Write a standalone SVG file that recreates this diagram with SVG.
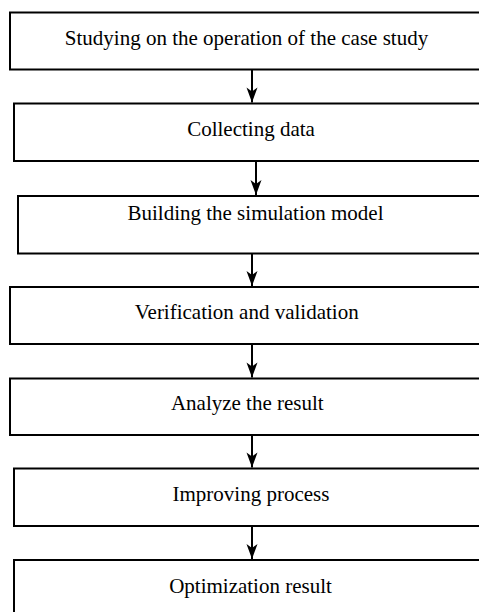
<svg xmlns="http://www.w3.org/2000/svg" width="479" height="612" viewBox="0 0 479 612">
<style>
.box{fill:#fff;stroke:#000;stroke-width:2}
.lbl{font-family:"Liberation Serif","Times New Roman",serif;font-size:21px;fill:#000;text-anchor:middle}
.conn{stroke:#000;stroke-width:2;fill:none}
</style>
<defs>
<marker id="ah" markerUnits="userSpaceOnUse" markerWidth="17" markerHeight="12" viewBox="-16 -6 17 12" refX="0" refY="0" orient="auto">
<path d="M0,0 L-15,-5.5 L-11,0 L-15,5.5 Z" fill="#000"/>
</marker>
</defs>
<rect width="479" height="612" fill="#fff"/>
<g id="n1"><rect class="box" x="10" y="12.5" width="473" height="57"/><text class="lbl" x="246.5" y="45">Studying on the operation of the case study</text></g>
<g id="n2"><rect class="box" x="14" y="103.5" width="474" height="57.5"/><text class="lbl" x="251" y="136">Collecting data</text></g>
<g id="n3"><rect class="box" x="18" y="196" width="475" height="57.5"/><text class="lbl" x="255.5" y="219.5">Building the simulation model</text></g>
<g id="n4"><rect class="box" x="10" y="287" width="474" height="57"/><text class="lbl" x="246.7" y="319">Verification and validation</text></g>
<g id="n5"><rect class="box" x="10" y="378.5" width="475" height="56.5"/><text class="lbl" x="247.3" y="410">Analyze the result</text></g>
<g id="n6"><rect class="box" x="14" y="468.5" width="474" height="57.5"/><text class="lbl" x="251" y="500.7">Improving process</text></g>
<g id="n7"><rect class="box" x="14" y="560" width="474" height="60"/><text class="lbl" x="250.5" y="592.5">Optimization result</text></g>
<g id="connectors">
<line class="conn" x1="252" y1="69.5" x2="252" y2="102.5" marker-end="url(#ah)"/>
<line class="conn" x1="256" y1="161" x2="256" y2="195" marker-end="url(#ah)"/>
<line class="conn" x1="252" y1="253.5" x2="252" y2="286" marker-end="url(#ah)"/>
<line class="conn" x1="252" y1="344" x2="252" y2="377.5" marker-end="url(#ah)"/>
<line class="conn" x1="252" y1="435" x2="252" y2="467.5" marker-end="url(#ah)"/>
<line class="conn" x1="252" y1="526" x2="252" y2="559" marker-end="url(#ah)"/>
</g>
</svg>
